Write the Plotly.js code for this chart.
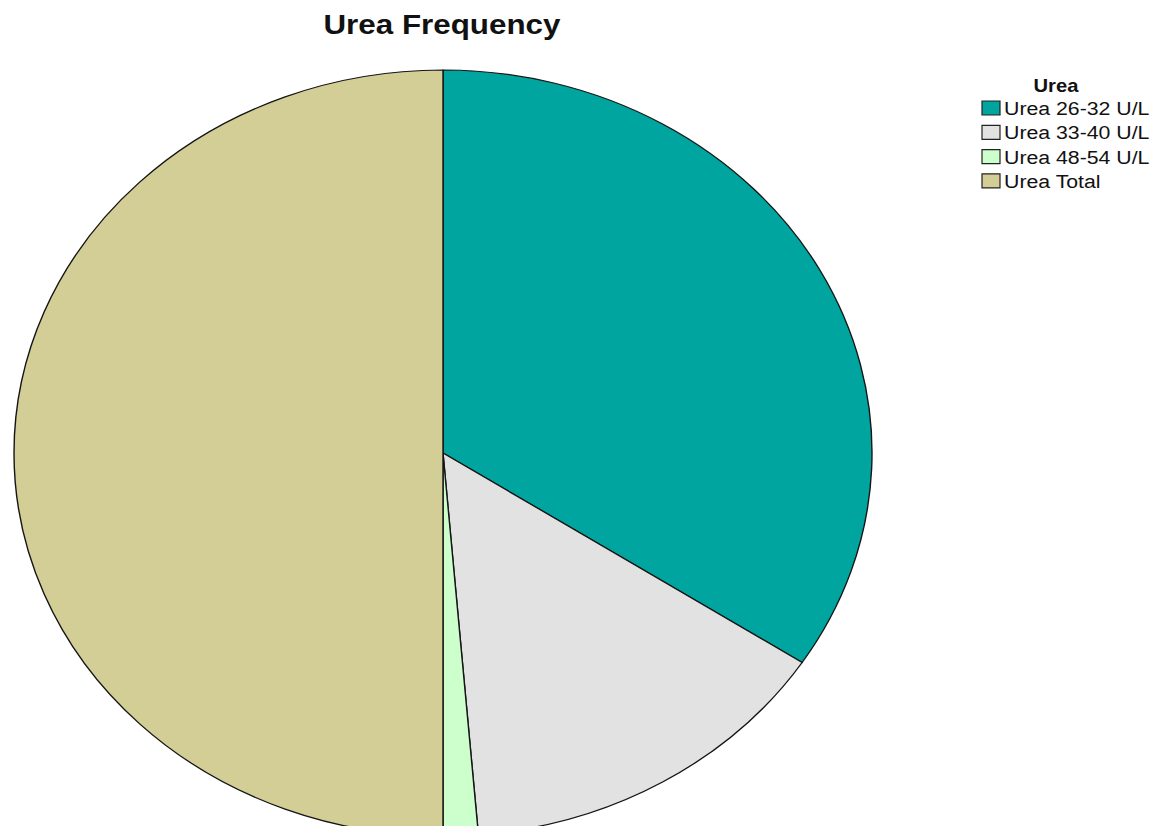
<!DOCTYPE html>
<html>
<head>
<meta charset="utf-8">
<script src="https://cdn.plot.ly/plotly-3.0.1.min.js"></script>
<style>
  html, body { margin: 0; padding: 0; background: #ffffff; overflow: hidden; }
  #chart { width: 1155px; height: 900px; }
</style>
</head>
<body>
<div id="chart"></div>
<script>
// Urea frequency counts by category
const categories = ["Urea 26-32 U/L", "Urea 33-40 U/L", "Urea 48-54 U/L", "Urea Total"];
const counts = [26, 11, 1, 38];
const sliceColors = ["#00a5a0", "#e2e2e2", "#ccffcc", "#d3cd96"];
const legendTitle = "Urea";
const chartTitle = "Urea Frequency";

// Figure geometry (pixels)
const W = 1155, H = 900;
const cx = 443, cy = 453, rx = 429, ry = 383;
const stretch = rx / ry;   // horizontal stretch shared by pie and text
const px = x => x / W;
const py = y => 1 - y / H;
const FONT = "Liberation Sans, Arial, sans-serif";

const trace = {
  type: "pie",
  labels: categories,
  values: counts,
  sort: false,
  direction: "clockwise",
  rotation: 0,
  textinfo: "none",
  hoverinfo: "label+value+percent",
  marker: { colors: sliceColors, line: { color: "#151515", width: 1.4 } },
  domain: { x: [px(cx - rx), px(cx + rx)], y: [py(cy + rx), py(cy - rx)] },
  showlegend: false
};

// Legend drawn as swatches + labels on the right
const legX = 982, legTop = 101, rowH = 24.3, sw = 18, sh = 14;
const shapes = categories.map((c, i) => ({
  type: "rect", xref: "paper", yref: "paper",
  x0: px(legX), x1: px(legX + sw),
  y0: py(legTop + i * rowH + sh), y1: py(legTop + i * rowH),
  fillcolor: sliceColors[i], line: { color: "#222", width: 1.2 }
}));
const annotations = categories.map((c, i) => ({
  xref: "paper", yref: "paper", showarrow: false,
  x: px(legX + sw + 2), y: py(legTop + i * rowH + sh / 2 + 0.5),
  xanchor: "left", yanchor: "middle",
  text: c, font: { family: FONT, size: 19, color: "#111" },
  name: "legitem"
}));
annotations.push({
  xref: "paper", yref: "paper", showarrow: false,
  x: px(1056), y: py(86), xanchor: "center", yanchor: "middle",
  text: "<b>" + legendTitle + "</b>",
  font: { family: FONT, size: 18, color: "#111" },
  name: "legtitle"
});

const layout = {
  width: W, height: H,
  margin: { l: 0, r: 0, t: 0, b: 0 },
  paper_bgcolor: "#ffffff",
  showlegend: false,
  title: {
    text: "<b>" + chartTitle + "</b>",
    font: { family: FONT, size: 28, color: "#111" },
    x: px(442), xanchor: "center", xref: "paper",
    y: py(24), yanchor: "middle", yref: "container"
  },
  shapes: shapes,
  annotations: annotations
};

// widen a text element horizontally around an anchor point
function widen(el, mode) {
  const b = el.getBBox();
  const a = mode === "left" ? b.x : b.x + b.width / 2;
  el.setAttribute("transform", "translate(" + (a * (1 - stretch)) + ",0) scale(" + stretch + ",1)");
}

Plotly.newPlot("chart", [trace], layout, { displayModeBar: false, staticPlot: true }).then(gd => {
  // squash the pie vertically into an ellipse around its centre
  const k = ry / rx;
  gd.querySelectorAll(".pielayer > g").forEach(g => {
    g.setAttribute("transform", "matrix(1,0,0," + k + ",0," + (cy * (1 - k)) + ")");
  });
  const texts = gd.querySelectorAll(".annotation-text");
  texts.forEach((t, i) => widen(t, i < categories.length ? "left" : "center"));
  const tt = gd.querySelector(".gtitle");
  if (tt) widen(tt, "center");
});
</script>
</body>
</html>
